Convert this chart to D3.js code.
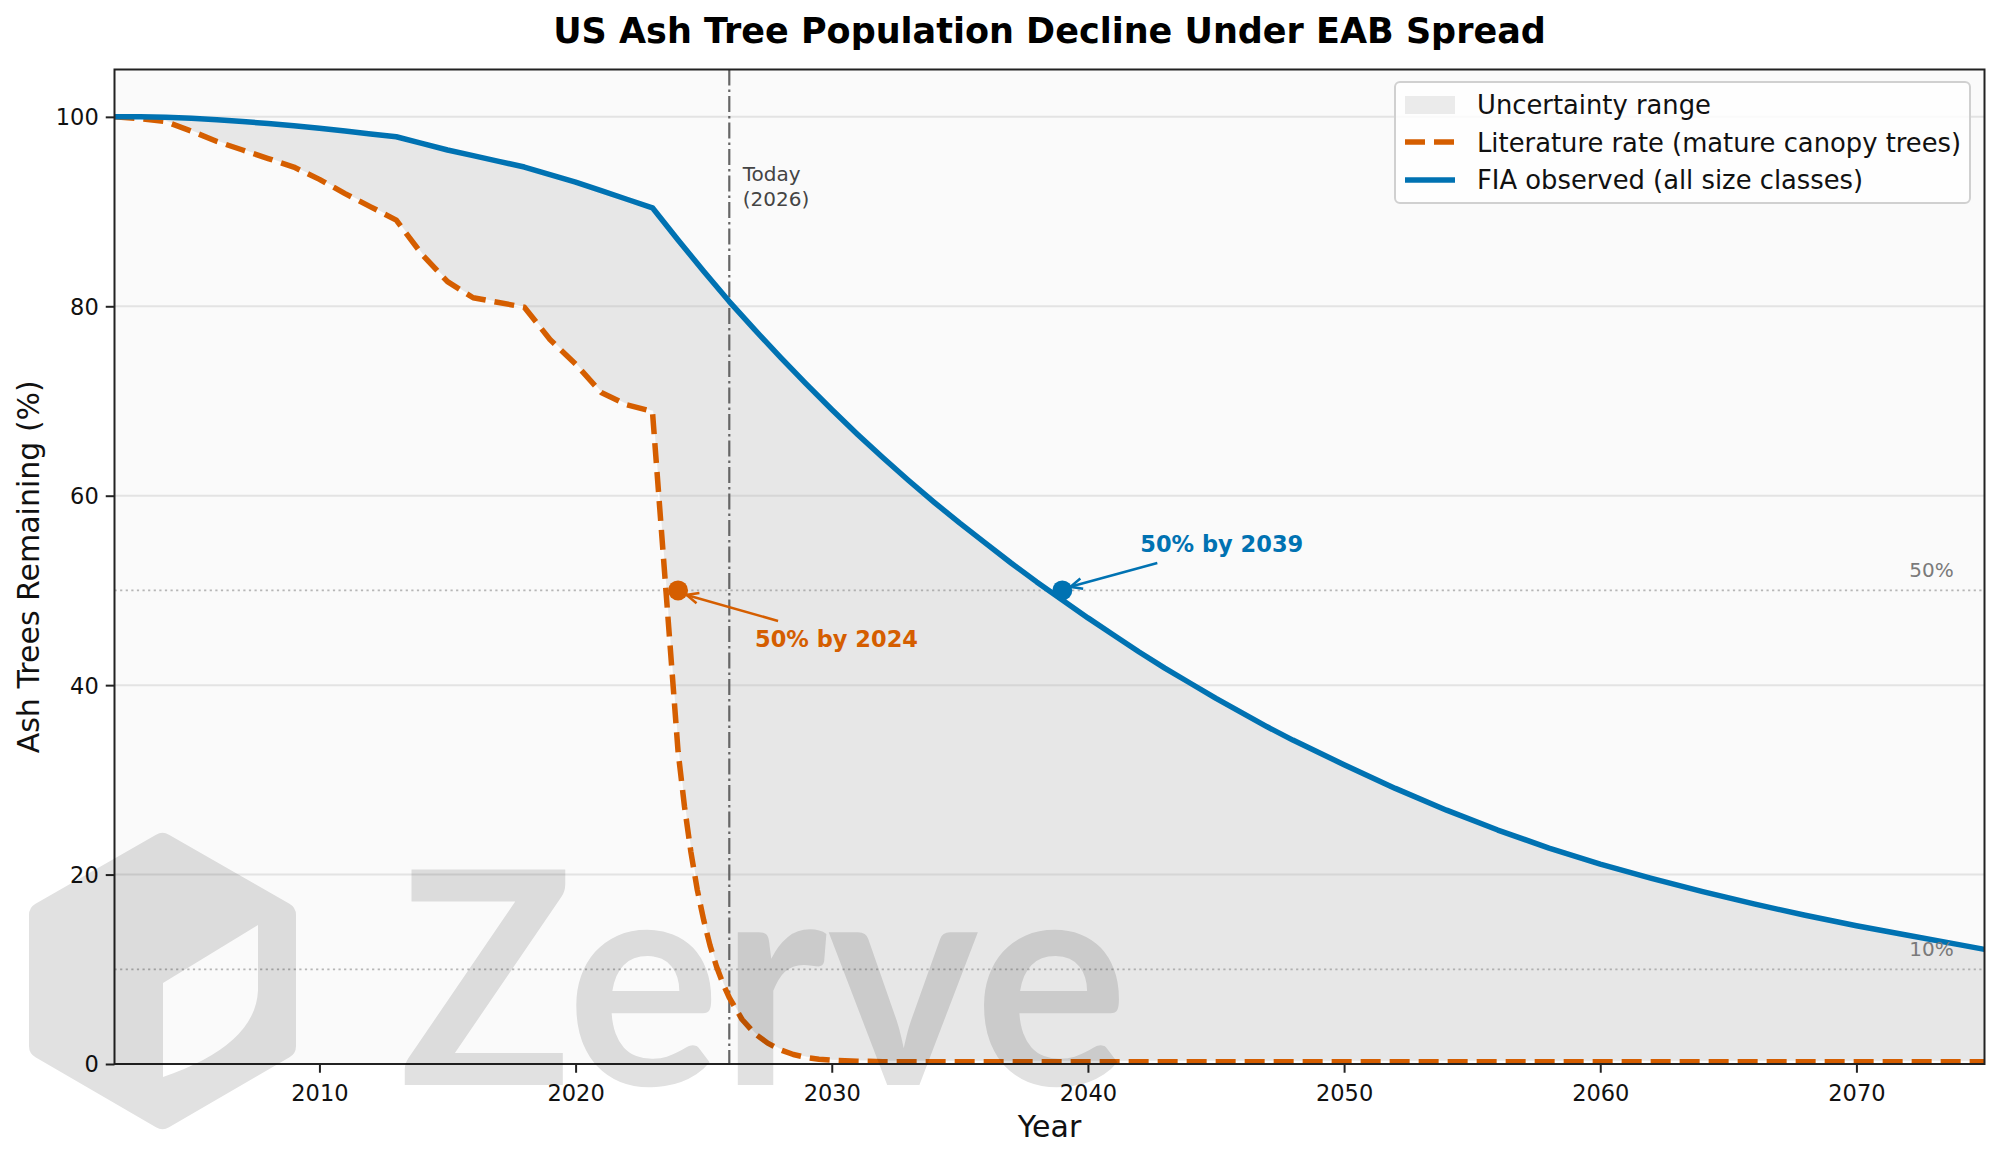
<!DOCTYPE html>
<html>
<head>
<meta charset="utf-8">
<script src="https://cdn.jsdelivr.net/npm/d3@7"></script>
<style>
    body { margin: 0; background: #fff; }
    svg { display: block; font-family: "DejaVu Sans", sans-serif; }
</style>
</head>
<body>
<div id="ash-chart"></div>
<script>
// FIA observed (all size classes), % of ash trees remaining
const fiaYears = [2002, 2003, 2004, 2005, 2006, 2007, 2008, 2009, 2010, 2011, 2012, 2013,
    2014, 2015, 2016, 2017, 2018, 2019, 2020, 2021, 2022, 2023,
    2024, 2025, 2026, 2027, 2028, 2029, 2030, 2031, 2032, 2033, 2034, 2035, 2036,
    2037, 2038, 2039, 2040, 2041, 2042, 2043, 2044, 2045, 2046, 2047, 2048,
    2050, 2052, 2054, 2056, 2058, 2060, 2062, 2064, 2066, 2068, 2070, 2072, 2074, 2075];
const fiaValues = [100.0, 100.0, 99.95, 99.85, 99.7, 99.5, 99.3, 99.05, 98.8, 98.5, 98.2, 97.9,
    97.2, 96.5, 95.9, 95.3, 94.7, 93.9, 93.1, 92.2, 91.3, 90.4,
    87.0, 83.7, 80.5, 77.5, 74.6, 71.8, 69.1, 66.5, 64.0, 61.6, 59.3, 57.1, 55.0,
    52.9, 50.9, 49.0, 47.1, 45.3, 43.5, 41.8, 40.2, 38.6, 37.1, 35.6, 34.2,
    31.6, 29.1, 26.8, 24.7, 22.8, 21.1, 19.6, 18.2, 16.9, 15.7, 14.6, 13.6, 12.6, 12.1];

// Literature rate (mature canopy trees)
const litYears = [2002, 2003, 2004, 2005, 2006, 2007, 2008, 2009, 2010, 2011, 2012, 2013,
    2014, 2015, 2016, 2017, 2018, 2019, 2020, 2021, 2022, 2023,
    2024, 2024.25, 2024.5, 2024.75, 2025, 2025.25, 2025.5, 2025.75, 2026,
    2026.5, 2027, 2027.5, 2028, 2028.5, 2029, 2029.5, 2030, 2031, 2032,
    2035, 2040, 2045, 2050, 2055, 2060, 2065, 2070, 2075];
const litValues = [100.0, 99.8, 99.5, 98.5, 97.4, 96.5, 95.6, 94.7, 93.4, 91.9, 90.5, 89.1,
    85.5, 82.6, 80.9, 80.4, 79.9, 76.5, 73.9, 70.9, 69.6, 68.9,
    33.0, 27.2, 22.4, 18.4, 15.2, 12.5, 10.3, 8.5, 7.0,
    4.7, 3.2, 2.2, 1.5, 1.0, 0.7, 0.5, 0.4, 0.3, 0.25,
    0.25, 0.25, 0.25, 0.25, 0.25, 0.25, 0.25, 0.25, 0.25];

const xTicks = [2010, 2020, 2030, 2040, 2050, 2060, 2070];
const yTicks = [0, 20, 40, 60, 80, 100];
const todayYear = 2026;
const thresholdLines = [50, 10];
const thresholdLabels = ["50%", "10%"];
const milestoneYears = [2024, 2039];
const milestoneLabels = ["50% by 2024", "50% by 2039"];
const legendLabels = ["Uncertainty range", "Literature rate (mature canopy trees)", "FIA observed (all size classes)"];

const blue = "#0072B2", orange = "#D55E00";

let margin = {top: 69.5, right: 14.5, bottom: 95, left: 114.5},
    width = 1999 - margin.left - margin.right,
    height = 1159 - margin.top - margin.bottom;

const root = d3.select("#ash-chart")
    .append("svg")
    .attr("width", 1999)
    .attr("height", 1159);

const svg = root.append("g")
    .attr("transform", `translate(${margin.left}, ${margin.top})`);

/* scales */
const x = d3.scaleLinear().domain([2002, 2075]).range([0, width]);
const y = d3.scaleLinear().domain([0, 105]).range([height, 0]);

const fia = fiaYears.map((d, i) => ({year: d, value: fiaValues[i]}));
const lit = litYears.map((d, i) => ({year: d, value: litValues[i]}));

root.append("defs").append("clipPath")
    .attr("id", "plot-clip")
    .append("rect")
    .attr("width", width)
    .attr("height", height);

// axes background
svg.append("rect")
    .attr("width", width)
    .attr("height", height)
    .attr("fill", "#fafafa");

const line = d3.line()
    .x(d => x(d.year))
    .y(d => y(d.value));

const plot = svg.append("g").attr("clip-path", "url(#plot-clip)");

// uncertainty band between the two curves
plot.append("path")
    .attr("d", line(fia.concat(lit.slice().reverse())) + "Z")
    .attr("fill", "#808080")
    .attr("fill-opacity", 0.15);

// horizontal grid
plot.selectAll(".grid")
    .data(yTicks)
    .enter()
    .append("line")
    .attr("x1", 0)
    .attr("x2", width)
    .attr("y1", d => y(d))
    .attr("y2", d => y(d))
    .attr("stroke", "#b0b0b0")
    .attr("stroke-opacity", 0.3)
    .attr("stroke-width", 2);

// 50% / 10% reference lines
plot.selectAll(".threshold")
    .data(thresholdLines)
    .enter()
    .append("line")
    .attr("x1", 0)
    .attr("x2", width)
    .attr("y1", d => y(d))
    .attr("y2", d => y(d))
    .attr("stroke", "#999")
    .attr("stroke-opacity", 0.7)
    .attr("stroke-width", 1.8)
    .attr("stroke-dasharray", "2.2,3.4");

svg.selectAll(".threshold-label")
    .data(thresholdLines)
    .enter()
    .append("text")
    .attr("x", x(2073.8))
    .attr("y", d => y(d) - 13.5)
    .attr("text-anchor", "end")
    .attr("font-size", 20)
    .attr("fill", "#7a7a7a")
    .text((d, i) => thresholdLabels[i]);

// today marker
plot.append("line")
    .attr("x1", x(todayYear))
    .attr("x2", x(todayYear))
    .attr("y1", 0)
    .attr("y2", height)
    .attr("stroke", "#666")
    .attr("stroke-width", 2.2)
    .attr("stroke-dasharray", "16,4,2.5,4");

const todayText = svg.append("text")
    .attr("x", x(todayYear) + 13.5)
    .attr("y", y(95) + 17)
    .attr("font-size", 20)
    .attr("fill", "#444");
todayText.append("tspan").attr("x", x(todayYear) + 13.5).text("Today");
todayText.append("tspan").attr("x", x(todayYear) + 13.5).attr("dy", 24.5).text(`(${todayYear})`);

// literature curve
plot.append("path")
    .attr("d", line(lit))
    .attr("fill", "none")
    .attr("stroke", "#fff")
    .attr("stroke-opacity", 0.8)
    .attr("stroke-width", 1.6);

plot.append("path")
    .attr("d", line(lit))
    .attr("fill", "none")
    .attr("stroke", orange)
    .attr("stroke-width", 5.5)
    .attr("stroke-dasharray", "20,9")
    .attr("stroke-linejoin", "round");

// FIA curve
plot.append("path")
    .attr("d", line(fia))
    .attr("fill", "none")
    .attr("stroke", blue)
    .attr("stroke-width", 5.5)
    .attr("stroke-linejoin", "round");

/* milestones */
const notes = [
    {color: orange, text: [77, 56.5], from: [100, 30.5], to: [8.5, 4.5]},
    {color: blue, text: [78, -38.5], from: [95, -27.5], to: [8, -3.6]}
];

milestoneYears.forEach((yr, i) => {
    const cx = x(yr), cy = y(50), n = notes[i];
    const x1 = cx + n.from[0], y1 = cy + n.from[1];
    const x2 = cx + n.to[0], y2 = cy + n.to[1];
    const ang = Math.atan2(y2 - y1, x2 - x1);
    const hl = 13, hw = 0.42;

    svg.append("circle")
        .attr("cx", cx)
        .attr("cy", cy)
        .attr("r", 10)
        .attr("fill", n.color);

    svg.append("line")
        .attr("x1", x1).attr("y1", y1)
        .attr("x2", x2).attr("y2", y2)
        .attr("stroke", n.color)
        .attr("stroke-width", 2.5);

    svg.append("path")
        .attr("d", `M${x2 - hl * Math.cos(ang - hw)},${y2 - hl * Math.sin(ang - hw)}L${x2},${y2}L${x2 - hl * Math.cos(ang + hw)},${y2 - hl * Math.sin(ang + hw)}`)
        .attr("fill", "none")
        .attr("stroke", n.color)
        .attr("stroke-width", 2.5);

    svg.append("text")
        .attr("x", cx + n.text[0])
        .attr("y", cy + n.text[1])
        .attr("font-size", 22.5)
        .attr("font-weight", "bold")
        .attr("fill", n.color)
        .text(milestoneLabels[i]);
});

/* X-axis */
const xAxis = svg.append("g")
    .attr("transform", `translate(0, ${height})`)
    .call(d3.axisBottom(x).tickValues(xTicks).tickFormat(d3.format("d")).tickSize(8.75).tickPadding(12.5));

/* Y-axis */
const yAxis = svg.append("g")
    .call(d3.axisLeft(y).tickValues(yTicks).tickSize(8.75).tickPadding(7));

[xAxis, yAxis].forEach(a => {
    a.select(".domain").remove();
    a.selectAll("line").attr("stroke", "#222").attr("stroke-width", 2);
    a.selectAll("text")
        .attr("font-family", "DejaVu Sans")
        .attr("font-size", 22.5)
        .attr("fill", "#111");
});
yAxis.selectAll("text").attr("dy", "0.35em");

// spines
svg.append("rect")
    .attr("width", width)
    .attr("height", height)
    .attr("fill", "none")
    .attr("stroke", "#222")
    .attr("stroke-width", 2);

svg.append("text")
    .attr("text-anchor", "middle")
    .attr("x", width / 2)
    .attr("y", 1137 - margin.top)
    .attr("font-size", 30)
    .attr("fill", "#111")
    .text("Year");

svg.append("text")
    .attr("text-anchor", "middle")
    .attr("transform", "rotate(-90)")
    .attr("x", -height / 2)
    .attr("y", 39 - margin.left)
    .attr("font-size", 30)
    .attr("fill", "#111")
    .text("Ash Trees Remaining (%)");

root.append("text")
    .attr("text-anchor", "middle")
    .attr("x", margin.left + width / 2)
    .attr("y", 43)
    .attr("font-size", 35)
    .attr("font-weight", "bold")
    .attr("fill", "#000")
    .text("US Ash Tree Population Decline Under EAB Spread");

/* legend */
const legend = root.append("g").attr("transform", "translate(1395, 82)");
legend.append("rect")
    .attr("width", 575)
    .attr("height", 121)
    .attr("rx", 5)
    .attr("fill", "#fff")
    .attr("fill-opacity", 0.8)
    .attr("stroke", "#d0d0d0")
    .attr("stroke-width", 2);

legend.append("rect")
    .attr("x", 10).attr("y", 14)
    .attr("width", 50).attr("height", 18)
    .attr("fill", "#808080")
    .attr("fill-opacity", 0.15);
legend.append("line")
    .attr("x1", 10).attr("x2", 60)
    .attr("y1", 60).attr("y2", 60)
    .attr("stroke", orange)
    .attr("stroke-width", 5.5)
    .attr("stroke-dasharray", "20,9");
legend.append("line")
    .attr("x1", 10).attr("x2", 60)
    .attr("y1", 98).attr("y2", 98)
    .attr("stroke", blue)
    .attr("stroke-width", 5.5);

legend.selectAll(".legend-label")
    .data(legendLabels)
    .enter()
    .append("text")
    .attr("x", 82)
    .attr("y", (d, i) => 32 + i * 37.7)
    .attr("font-size", 25.8)
    .attr("fill", "#111")
    .text(d => d);

/* watermark, drawn over everything */
const mask = root.select("defs").append("mask").attr("id", "logo-cut");
mask.append("rect").attr("width", 1999).attr("height", 1159).attr("fill", "#fff");
mask.append("path")
    .attr("d", "M258,925 L258,990 Q256,1045 163,1077 L163,983 Z")
    .attr("fill", "#000");

const mark = root.append("g").attr("opacity", 0.12);
mark.append("path")
    .attr("d", "M162.5,846 L283,915 L283,1046 L162.5,1116 L42,1046 L42,915 Z")
    .attr("fill", "#000")
    .attr("stroke", "#000")
    .attr("stroke-width", 26)
    .attr("stroke-linejoin", "round")
    .attr("mask", "url(#logo-cut)");
mark.append("text")
    .attr("x", 399)
    .attr("y", 1085)
    .attr("font-family", "Lato")
    .attr("font-weight", "bold")
    .attr("font-size", 298)
    .attr("textLength", 729)
    .attr("lengthAdjust", "spacingAndGlyphs")
    .attr("fill", "#000")
    .text("Zerve");
</script>
</body>
</html>
